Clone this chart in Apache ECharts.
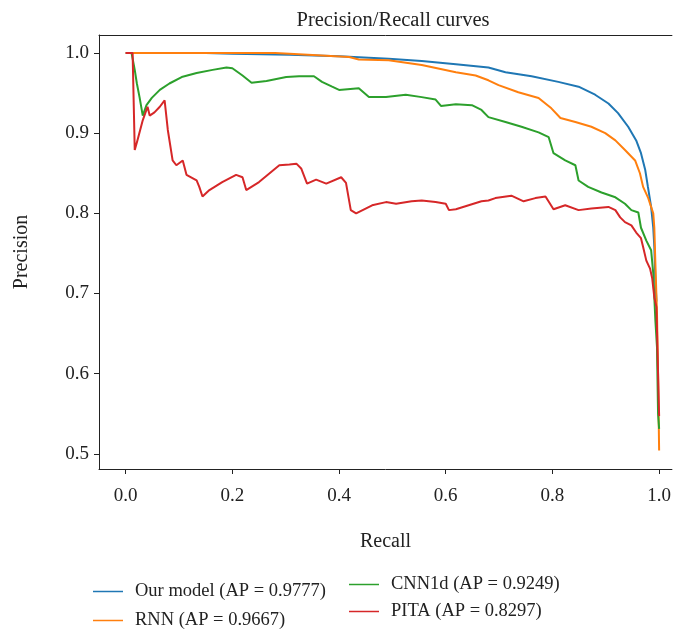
<!DOCTYPE html>
<html>
<head>
<meta charset="utf-8">
<script src="https://cdn.jsdelivr.net/npm/echarts@6/dist/echarts.min.js"></script>
<style>
  html, body {margin: 0; padding: 0; background: #fff;}
  #chart {width: 674px; height: 629px;}
</style>
</head>
<body>
<div id="chart"></div>
<script>
// values
const seriesNames = ['Our model (AP = 0.9777)', 'RNN (AP = 0.9667)', 'CNN1d (AP = 0.9249)', 'PITA (AP = 0.8297)']
const colors = ['#1f77b4', '#ff7f0e', '#2ca02c', '#d62728']
const xTicks = [0.0, 0.2, 0.4, 0.6, 0.8, 1.0]
const yTicks = [0.5, 0.6, 0.7, 0.8, 0.9, 1.0]

const ourRecall = [0, 0.15, 0.2, 0.307, 0.4, 0.493, 0.555, 0.619, 0.68, 0.712, 0.761, 0.811, 0.849, 0.88, 0.905, 0.923, 0.942, 0.957, 0.966, 0.974, 0.979, 0.985, 0.989, 0.991, 0.993, 0.995]
const ourPrecision = [1.0, 1.0, 0.999, 0.998, 0.996, 0.993, 0.99, 0.986, 0.982, 0.976, 0.971, 0.964, 0.958, 0.948, 0.937, 0.925, 0.908, 0.891, 0.875, 0.854, 0.833, 0.808, 0.782, 0.758, 0.716, 0.69]

const rnnRecall = [0, 0.28, 0.307, 0.419, 0.437, 0.493, 0.555, 0.619, 0.656, 0.68, 0.699, 0.736, 0.774, 0.798, 0.815, 0.843, 0.873, 0.899, 0.918, 0.936, 0.955, 0.964, 0.97, 0.979, 0.985, 0.989, 0.991, 0.993, 0.996, 0.998, 1.0]
const rnnPrecision = [1.0, 1.0, 0.999, 0.995, 0.992, 0.991, 0.985, 0.976, 0.972, 0.966, 0.96, 0.951, 0.944, 0.931, 0.919, 0.914, 0.908, 0.9, 0.891, 0.879, 0.866, 0.85, 0.833, 0.82, 0.808, 0.8, 0.782, 0.737, 0.675, 0.6, 0.504]

const cnnRecall = [0.011, 0.017, 0.021, 0.026, 0.032, 0.039, 0.049, 0.064, 0.082, 0.105, 0.133, 0.163, 0.189, 0.2, 0.219, 0.236, 0.264, 0.301, 0.325, 0.353, 0.368, 0.387, 0.4, 0.437, 0.456, 0.488, 0.525, 0.555, 0.581, 0.591, 0.619, 0.649, 0.667, 0.68, 0.712, 0.742, 0.774, 0.793, 0.802, 0.824, 0.843, 0.849, 0.867, 0.892, 0.918, 0.936, 0.948, 0.961, 0.966, 0.976, 0.985, 0.989, 0.993, 0.996, 0.998, 1.0]
const cnnPrecision = [1.0, 0.979, 0.962, 0.945, 0.922, 0.935, 0.944, 0.954, 0.962, 0.97, 0.975, 0.979, 0.982, 0.981, 0.972, 0.963, 0.965, 0.97, 0.971, 0.971, 0.964, 0.958, 0.954, 0.956, 0.945, 0.945, 0.948, 0.945, 0.942, 0.934, 0.936, 0.935, 0.929, 0.92, 0.914, 0.908, 0.901, 0.895, 0.875, 0.866, 0.86, 0.841, 0.833, 0.826, 0.82, 0.812, 0.804, 0.801, 0.782, 0.766, 0.754, 0.725, 0.666, 0.633, 0.55, 0.531]

const pitaRecall = [0, 0.013, 0.017, 0.022, 0.032, 0.041, 0.045, 0.054, 0.064, 0.073, 0.079, 0.088, 0.095, 0.107, 0.114, 0.133, 0.138, 0.144, 0.157, 0.181, 0.207, 0.219, 0.226, 0.25, 0.288, 0.307, 0.32, 0.329, 0.34, 0.357, 0.376, 0.404, 0.413, 0.422, 0.432, 0.462, 0.488, 0.507, 0.536, 0.555, 0.581, 0.6, 0.606, 0.619, 0.643, 0.667, 0.68, 0.693, 0.723, 0.746, 0.768, 0.787, 0.802, 0.824, 0.849, 0.873, 0.905, 0.918, 0.927, 0.936, 0.948, 0.957, 0.966, 0.97, 0.976, 0.983, 0.987, 0.991, 0.995, 0.996, 0.998, 1.0]
const pitaPrecision = [1.0, 1.0, 0.879, 0.891, 0.916, 0.933, 0.922, 0.926, 0.933, 0.941, 0.904, 0.866, 0.86, 0.866, 0.848, 0.841, 0.833, 0.821, 0.829, 0.839, 0.848, 0.845, 0.829, 0.839, 0.86, 0.861, 0.862, 0.856, 0.837, 0.842, 0.837, 0.845, 0.838, 0.804, 0.8, 0.81, 0.814, 0.812, 0.815, 0.816, 0.814, 0.812, 0.804, 0.805, 0.81, 0.815, 0.816, 0.819, 0.822, 0.815, 0.819, 0.821, 0.805, 0.81, 0.804, 0.806, 0.808, 0.804, 0.795, 0.789, 0.785, 0.776, 0.769, 0.758, 0.741, 0.731, 0.719, 0.695, 0.683, 0.654, 0.6, 0.547]

function pairs(xs, ys) {
  return xs.map((x, i) => [x, ys[i]])
}

const curves = [
  pairs(ourRecall, ourPrecision),
  pairs(rnnRecall, rnnPrecision),
  pairs(cnnRecall, cnnPrecision),
  pairs(pitaRecall, pitaPrecision)
]

const font = '"Liberation Serif", "DejaVu Serif", serif'
const chart = echarts.init(document.getElementById('chart'))

// one legend per entry so the two columns sit where the reference puts them
const legendSpots = [[93, 582], [93, 611], [349, 575], [349, 602]]
const legends = seriesNames.map((name, i) => ({
  data: [name],
  left: legendSpots[i][0],
  top: legendSpots[i][1],
  padding: 0,
  icon: 'rect',
  itemWidth: 30,
  itemHeight: 1.5,
  textStyle: {fontFamily: font, fontSize: 18.5, color: '#222', padding: [0, 0, 0, 7]},
  selectedMode: false
}))

const option = {
  backgroundColor: '#fff',
  animation: false,
  title: {
    text: 'Precision/Recall curves',
    left: 388,
    top: 5,
    textAlign: 'center',
    textStyle: {fontFamily: font, fontSize: 20.5, fontWeight: 'normal', color: '#222'}
  },
  legend: legends,
  grid: {left: 99, right: 0, top: 35, bottom: 160, containLabel: false},
  xAxis: [
    {
      type: 'value',
      min: -0.05,
      max: 1.024,
      name: 'Recall',
      nameLocation: 'middle',
      nameGap: 63,
      nameMoveOverlap: false,
      nameTextStyle: {fontFamily: font, fontSize: 20, color: '#222'},
      axisLine: {onZero: false, lineStyle: {color: '#222', width: 1}},
      axisTick: {show: true, length: 5, customValues: xTicks, lineStyle: {color: '#222'}},
      axisLabel: {customValues: xTicks, fontFamily: font, fontSize: 19, color: '#222', margin: 18,
        formatter: v => v.toFixed(1)},
      splitLine: {show: false}
    },
    {
      type: 'value',
      position: 'top',
      min: -0.05,
      max: 1.024,
      axisLine: {show: true, onZero: false, lineStyle: {color: '#222', width: 1}},
      axisTick: {show: false},
      axisLabel: {show: false},
      splitLine: {show: false}
    }
  ],
  yAxis: {
    type: 'value',
    min: 0.481,
    max: 1.0225,
    name: 'Precision',
    nameLocation: 'middle',
    nameGap: 67,
    nameMoveOverlap: false,
    nameTextStyle: {fontFamily: font, fontSize: 20, color: '#222'},
    axisLine: {show: true, onZero: false, lineStyle: {color: '#222', width: 1}},
    axisTick: {show: true, length: 5, customValues: yTicks, lineStyle: {color: '#222'}},
    axisLabel: {customValues: yTicks, fontFamily: font, fontSize: 19, color: '#222', margin: 10,
      formatter: v => v.toFixed(1)},
    splitLine: {show: false}
  },
  series: curves.map((data, i) => ({
    name: seriesNames[i],
    type: 'line',
    data: data,
    showSymbol: false,
    symbol: 'none',
    color: colors[i],
    lineStyle: {color: colors[i], width: 2},
    clip: true
  }))
}

chart.setOption(option)
</script>
</body>
</html>
